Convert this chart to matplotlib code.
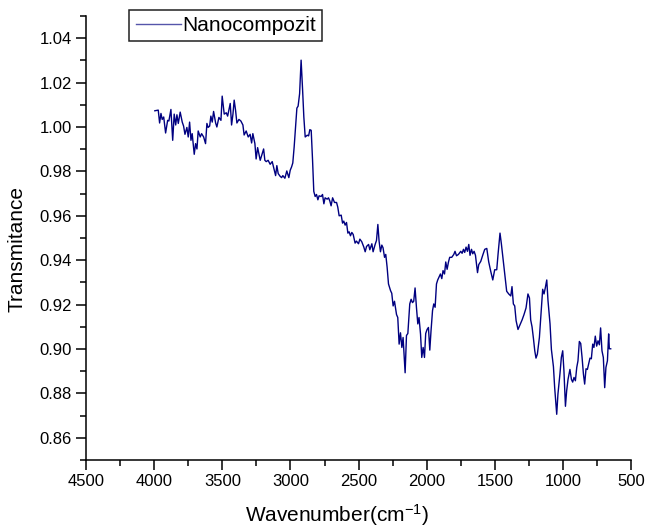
import matplotlib
matplotlib.use("Agg")
import matplotlib.pyplot as plt
from matplotlib.ticker import MultipleLocator

plt.rcParams['font.family'] = ['Liberation Sans', 'DejaVu Sans']
plt.rcParams['mathtext.default'] = 'regular'

# FTIR spectrum (wavenumber cm-1, transmittance)
wavenumber = [
    3995, 3970, 3960, 3950, 3941, 3930, 3916, 3901, 3892, 3877, 3864, 3853, 3842, 3833, 3823,
    3809, 3794, 3784, 3774, 3760, 3750, 3740, 3730, 3721, 3706, 3696, 3686, 3677, 3662, 3652,
    3637, 3623, 3613, 3604, 3593, 3584, 3574, 3564, 3549, 3540, 3525, 3510, 3501, 3486, 3471,
    3461, 3452, 3442, 3432, 3422, 3413, 3403, 3393, 3378, 3364, 3349, 3340, 3325, 3310, 3296,
    3285, 3276, 3261, 3252, 3241, 3232, 3222, 3212, 3197, 3188, 3178, 3164, 3149, 3134, 3120,
    3109, 3100, 3090, 3076, 3065, 3056, 3041, 3027, 3012, 3002, 2992, 2983, 2973, 2963, 2953,
    2944, 2933, 2922, 2911, 2902, 2892, 2877, 2867, 2858, 2848, 2838, 2829, 2819, 2809, 2799,
    2790, 2775, 2765, 2755, 2746, 2731, 2721, 2711, 2702, 2691, 2677, 2662, 2653, 2643, 2628,
    2618, 2609, 2599, 2589, 2579, 2570, 2560, 2550, 2540, 2526, 2516, 2501, 2491, 2477, 2462,
    2452, 2442, 2427, 2418, 2403, 2394, 2379, 2369, 2359, 2350, 2340, 2330, 2321, 2310, 2301,
    2291, 2281, 2266, 2257, 2247, 2237, 2222, 2213, 2203, 2193, 2183, 2174, 2159, 2149, 2139,
    2125, 2115, 2105, 2096, 2086, 2076, 2066, 2057, 2046, 2037, 2027, 2017, 2008, 1998, 1988,
    1978, 1969, 1958, 1949, 1939, 1929, 1920, 1900, 1890, 1881, 1870, 1861, 1851, 1841, 1832,
    1817, 1802, 1793, 1782, 1768, 1751, 1741, 1731, 1722, 1712, 1702, 1692, 1683, 1672, 1663,
    1653, 1643, 1628, 1619, 1604, 1590, 1575, 1560, 1546, 1531, 1516, 1502, 1487, 1477, 1463,
    1453, 1438, 1428, 1414, 1399, 1384, 1375, 1365, 1355, 1345, 1331, 1316, 1301, 1287, 1272,
    1258, 1247, 1238, 1228, 1218, 1208, 1199, 1189, 1174, 1159, 1150, 1140, 1130, 1120, 1111,
    1096, 1086, 1071, 1062, 1047, 1038, 1023, 1013, 1003, 994, 983, 974, 964, 950, 939,
    930, 920, 910, 900, 891, 881, 871, 861, 851, 842, 832, 822, 813, 803, 793,
    783, 774, 764, 754, 744, 734, 725, 715, 705, 695, 686, 675, 666, 661, 651,
]
transmittance = [
    1.0073, 1.0076, 1.0018, 1.0061, 1.0034, 1.0045, 0.9973, 1.0030, 1.0027, 1.0079, 0.9940, 1.0058, 1.0009, 1.0055, 1.0016,
    1.0067, 1.0022, 1.0004, 0.9967, 0.9998, 0.9955, 1.0022, 0.9940, 0.9970, 0.9877, 0.9925, 0.9901, 0.9982, 0.9955, 0.9970,
    0.9955, 0.9925, 1.0016, 0.9998, 1.0004, 1.0049, 1.0022, 1.0070, 1.0018, 1.0000, 1.0043, 1.0030, 1.0139, 1.0058, 1.0064,
    1.0049, 1.0076, 1.0106, 1.0009, 1.0058, 1.0121, 1.0076, 1.0018, 1.0034, 1.0027, 1.0009, 0.9964, 0.9982, 0.9955, 0.9967,
    0.9928, 0.9970, 0.9925, 0.9856, 0.9907, 0.9880, 0.9850, 0.9871, 0.9901, 0.9850, 0.9844, 0.9850, 0.9832, 0.9844, 0.9808,
    0.9781, 0.9826, 0.9790, 0.9778, 0.9772, 0.9781, 0.9769, 0.9802, 0.9772, 0.9805, 0.9820, 0.9838, 0.9910, 1.0000, 1.0085,
    1.0094, 1.0150, 1.0301, 1.0166, 1.0045, 0.9955, 0.9963, 0.9960, 0.9988, 0.9985, 0.9850, 0.9710, 0.9687, 0.9696, 0.9672,
    0.9690, 0.9687, 0.9696, 0.9654, 0.9681, 0.9675, 0.9681, 0.9666, 0.9645, 0.9681, 0.9660, 0.9660, 0.9639, 0.9600, 0.9603,
    0.9567, 0.9576, 0.9558, 0.9570, 0.9522, 0.9528, 0.9510, 0.9525, 0.9516, 0.9477, 0.9486, 0.9474, 0.9495, 0.9483, 0.9459,
    0.9438, 0.9462, 0.9471, 0.9447, 0.9474, 0.9438, 0.9471, 0.9489, 0.9561, 0.9486, 0.9438, 0.9468, 0.9456, 0.9413, 0.9426,
    0.9368, 0.9293, 0.9263, 0.9251, 0.9194, 0.9215, 0.9155, 0.9142, 0.9022, 0.9073, 0.9007, 0.9052, 0.8893, 0.9061, 0.9070,
    0.9203, 0.9224, 0.9209, 0.9215, 0.9275, 0.9188, 0.9113, 0.9142, 0.9067, 0.8962, 0.9007, 0.8962, 0.9070, 0.9088, 0.9097,
    0.8995, 0.9082, 0.9173, 0.9203, 0.9188, 0.9293, 0.9311, 0.9338, 0.9317, 0.9353, 0.9338, 0.9392, 0.9359, 0.9392, 0.9413,
    0.9413, 0.9426, 0.9440, 0.9420, 0.9426, 0.9440, 0.9431, 0.9449, 0.9435, 0.9459, 0.9440, 0.9471, 0.9422, 0.9449, 0.9429,
    0.9440, 0.9422, 0.9344, 0.9380, 0.9395, 0.9422, 0.9449, 0.9453, 0.9393, 0.9350, 0.9311, 0.9357, 0.9357, 0.9429, 0.9522,
    0.9474, 0.9393, 0.9338, 0.9260, 0.9248, 0.9239, 0.9281, 0.9203, 0.9194, 0.9128, 0.9088, 0.9110, 0.9131, 0.9155, 0.9185,
    0.9248, 0.9230, 0.9131, 0.9100, 0.9049, 0.8992, 0.8959, 0.8977, 0.9052, 0.9188, 0.9269, 0.9248, 0.9278, 0.9311, 0.9218,
    0.9113, 0.8998, 0.8920, 0.8826, 0.8706, 0.8797, 0.8890, 0.8962, 0.8992, 0.8902, 0.8742, 0.8812, 0.8863, 0.8908, 0.8863,
    0.8851, 0.8872, 0.8857, 0.8917, 0.8947, 0.9034, 0.9025, 0.8962, 0.8887, 0.8842, 0.8911, 0.8908, 0.8932, 0.8959, 0.8956,
    0.9022, 0.9007, 0.9058, 0.9013, 0.9037, 0.9019, 0.9095, 0.8992, 0.8962, 0.8826, 0.8917, 0.8947, 0.9068, 0.9001, 0.9001,
]

fig = plt.figure(figsize=(6.49, 5.29), dpi=100)
ax = fig.add_axes([0.1325, 0.1304, 0.8402, 0.8394])

ax.plot(wavenumber, transmittance, color='#000080', lw=1.0, label='Nanocompozit')

ax.set_xlim(4500, 500)
ax.set_ylim(0.85, 1.05)
ax.xaxis.set_major_locator(MultipleLocator(500))
ax.xaxis.set_minor_locator(MultipleLocator(250))
ax.yaxis.set_major_locator(MultipleLocator(0.02))
ax.yaxis.set_minor_locator(MultipleLocator(0.01))
ax.yaxis.set_major_formatter(plt.FormatStrFormatter('%.2f'))

for side in ['top', 'right']:
    ax.spines[side].set_visible(False)
for side in ['left', 'bottom']:
    ax.spines[side].set_linewidth(1.1)

ax.tick_params(which='major', direction='out', length=7, width=1.1, labelsize=12, pad=3)
ax.tick_params(which='minor', direction='out', length=4, width=1.1)

ax.set_xlabel('Wavenumber(cm$^{-1}$)', fontsize=15)
ax.set_ylabel('Transmitance', fontsize=15)
ax.xaxis.set_label_coords(0.46, -0.094)
ax.yaxis.set_label_coords(-0.110, 0.475)

leg = ax.legend(loc='upper left', bbox_to_anchor=(0.1992, 0.9811), bbox_transform=fig.transFigure,
                borderaxespad=0, fontsize=15, handlelength=2.2, handletextpad=0.05,
                borderpad=0.3, fancybox=False, framealpha=1)
leg.get_frame().set_edgecolor('#202020')
leg.get_frame().set_linewidth(1.1)
for h in leg.get_lines():
    h.set_color('#5555aa')
    h.set_linewidth(1.0)

fig.savefig('out.png', dpi=100)
